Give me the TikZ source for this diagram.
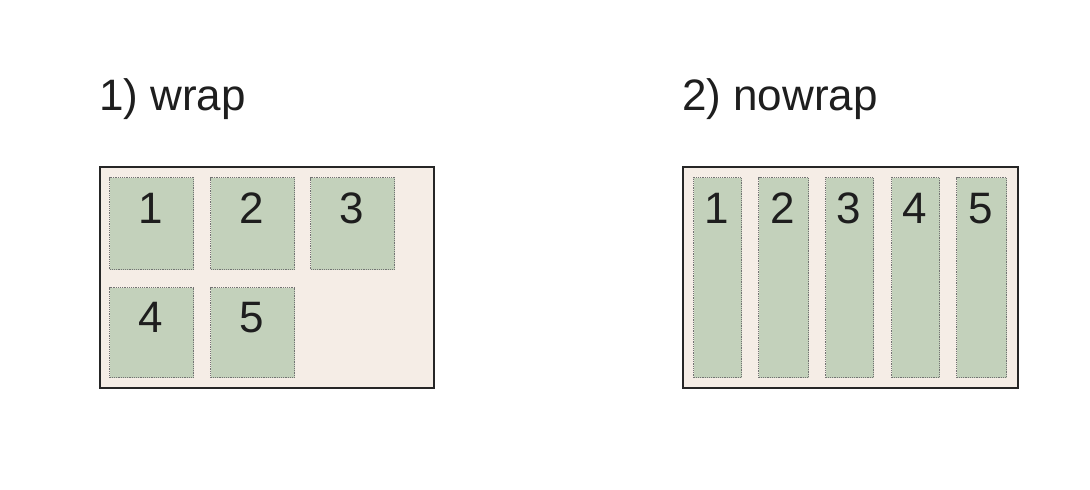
\documentclass[tikz,border=0pt]{standalone}
\usepackage{fontspec}
\setmainfont{Liberation Sans}
\definecolor{boxfill}{HTML}{F5EDE6}
\definecolor{itemfill}{HTML}{C3D1BB}
\definecolor{txt}{HTML}{1E1E1E}
\begin{document}
\begin{tikzpicture}[x=1pt,y=-1pt,
  container/.style={draw=black!85, line width=1.7pt, fill=boxfill, inner sep=0pt, anchor=north west},
  item/.style={draw=black!55, line width=1.2pt, dash pattern=on 1.2pt off 1pt, fill=itemfill, inner sep=0pt, anchor=north west},
  num/.style={text=txt, font=\fontsize{44}{44}\selectfont, anchor=base, inner sep=0pt},
  title/.style={text=txt, font=\fontsize{44}{44}\selectfont, anchor=base west, inner sep=0pt}]
\useasboundingbox (0,0) rectangle (1090,490);
\fill[white] (0,0) rectangle (1090,490);
% titles
\node[title] (t1) at (99,110) {1) wrap};
\node[title] (t2) at (682,110) {2) nowrap};
% containers
\node[container, minimum width=334pt, minimum height=221pt] (c1) at (99,166) {};
\node[container, minimum width=335pt, minimum height=221pt] (c2) at (682,166) {};
% wrap items
\node[item, minimum width=84pt, minimum height=92pt] (a1) at (109,177) {};
\node[item, minimum width=84pt, minimum height=92pt] (a2) at (210,177) {};
\node[item, minimum width=84pt, minimum height=92pt] (a3) at (310,177) {};
\node[item, minimum width=84pt, minimum height=90pt] (a4) at (109,287) {};
\node[item, minimum width=84pt, minimum height=90pt] (a5) at (210,287) {};
\node[num] (n1) at (151,223) {1};
\node[num] (n2) at (252,223) {2};
\node[num] (n3) at (352,223) {3};
\node[num] (n4) at (151,332) {4};
\node[num] (n5) at (252,332) {5};
% nowrap items
\node[item, minimum width=48pt, minimum height=200pt] (b1) at (693,177) {};
\node[item, minimum width=50pt, minimum height=200pt] (b2) at (758,177) {};
\node[item, minimum width=48pt, minimum height=200pt] (b3) at (825,177) {};
\node[item, minimum width=48pt, minimum height=200pt] (b4) at (891,177) {};
\node[item, minimum width=50pt, minimum height=200pt] (b5) at (956,177) {};
\node[num] (m1) at (717,223) {1};
\node[num] (m2) at (783,223) {2};
\node[num] (m3) at (849,223) {3};
\node[num] (m4) at (915,223) {4};
\node[num] (m5) at (981,223) {5};
\end{tikzpicture}
\end{document}
